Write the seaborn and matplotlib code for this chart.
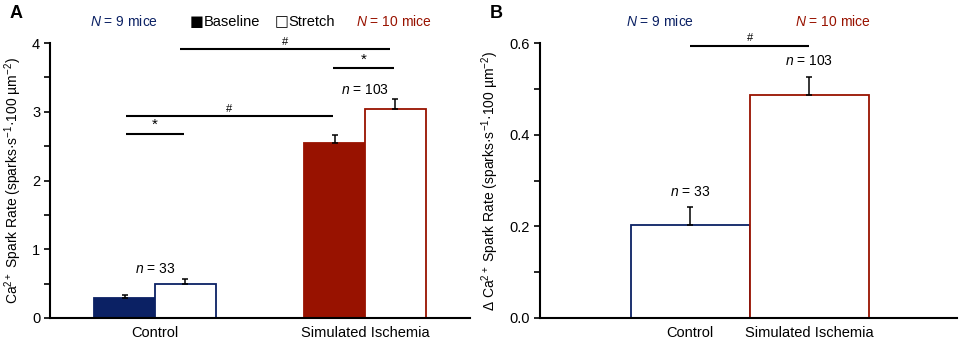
import pandas as pd
import matplotlib.pyplot as plt
import seaborn as sns

groups = ["Control", "Simulated Ischemia"]
conditions = ["Baseline", "Stretch"]
rate_baseline = [0.29, 2.55]
rate_stretch = [0.49, 3.04]
sem_baseline = [0.05, 0.11]
sem_stretch = [0.07, 0.14]
delta_rate = [0.203, 0.487]
delta_sem = [0.04, 0.038]
n_cells = ["33", "103"]
n_mice = ["9", "10"]

navy = "#0b2164"
darkred = "#981200"
group_colors = [navy, darkred]

sns.set_style("white")
plt.rcParams["font.family"] = ["Liberation Sans", "DejaVu Sans"]
plt.rcParams["mathtext.fontset"] = "custom"
plt.rcParams["mathtext.rm"] = "Liberation Sans"
plt.rcParams["mathtext.it"] = "Liberation Sans:italic"
plt.rcParams["font.size"] = 10
plt.rcParams["text.color"] = "black"
plt.rcParams["axes.labelcolor"] = "black"
plt.rcParams["xtick.color"] = "black"
plt.rcParams["ytick.color"] = "black"

df_a = pd.DataFrame({
    "group": groups * 2,
    "condition": [conditions[0]] * 2 + [conditions[1]] * 2,
    "rate": rate_baseline + rate_stretch,
})
df_b = pd.DataFrame({"group": groups, "delta": delta_rate})

fig = plt.figure(figsize=(9.59, 3.42), dpi=100)
ax1 = fig.add_axes([0.0521, 0.0702, 0.438, 0.804])
ax2 = fig.add_axes([0.563, 0.0702, 0.435, 0.804])

# ---- panel A ----
sns.barplot(data=df_a, x="group", y="rate", hue="condition", order=groups,
            hue_order=conditions, width=0.58, errorbar=None, legend=False,
            ax=ax1, linewidth=1.3)
errs = [sem_baseline, sem_stretch]
bar_conts = list(ax1.containers)
for h, cont in enumerate(bar_conts):
    for g, bar in enumerate(cont):
        if h == 0:
            bar.set_facecolor(group_colors[g])
        else:
            bar.set_facecolor("white")
        bar.set_edgecolor(group_colors[g])
        xc = bar.get_x() + bar.get_width() / 2
        ax1.errorbar([xc], [bar.get_height()], yerr=[[0], [errs[h][g]]],
                     fmt="none", ecolor="black", elinewidth=1.1, capsize=2,
                     capthick=1.1)

ax1.set_xlim(-0.5, 1.5)
ax1.set_ylim(0, 4)
ax1.set_yticks([0, 1, 2, 3, 4])
ax1.set_yticks([0.5, 1.5, 2.5, 3.5], minor=True)
ax1.set_xlabel("")
ax1.set_ylabel("Ca$^{2+}$ Spark Rate (sparks·s$^{-1}$·100 µm$^{-2}$)", labelpad=6)

# significance bars
sig_a = [(-0.14, 0.14, 2.68, "*", 11), (-0.14, 0.85, 2.94, "#", 8),
         (0.85, 1.14, 3.63, "*", 11), (0.12, 1.12, 3.91, "#", 8)]
for x0, x1, yv, mark, fs in sig_a:
    ax1.plot([x0, x1], [yv, yv], color="black", lw=1.5, solid_capstyle="butt")
    ax1.text((x0 + x1) / 2, yv + 0.03, mark, ha="center", va="bottom", fontsize=fs)

ax1.text(0.0, 0.71, "$\\it{n}$ = " + n_cells[0], ha="center", va="center")
ax1.text(1.0, 3.31, "$\\it{n}$ = " + n_cells[1], ha="center", va="center")

tr1 = ax1.get_xaxis_transform()
hy = 1.077
ax1.text(-0.147, hy, "$\\it{N}$ = " + n_mice[0] + " mice", color=navy,
         ha="center", va="center", transform=tr1)
ax1.text(1.137, hy, "$\\it{N}$ = " + n_mice[1] + " mice", color=darkred,
         ha="center", va="center", transform=tr1)
ax1.text(0.166, hy, "\u25A0", ha="left", va="center", transform=tr1,
         family=["DejaVu Sans"], fontsize=10.5)
ax1.text(0.23, hy, "Baseline", ha="left", va="center", transform=tr1,
         fontsize=10.5)
ax1.text(0.569, hy, "\u25A1", ha="left", va="center", transform=tr1,
         family=["DejaVu Sans"], fontsize=10.5)
ax1.text(0.633, hy, "Stretch", ha="left", va="center", transform=tr1,
         fontsize=10.5)

# ---- panel B ----
sns.barplot(data=df_b, x="group", y="delta", order=groups, width=1.0,
            errorbar=None, ax=ax2, linewidth=1.3)
for g, bar in enumerate(list(ax2.patches)):
    bar.set_facecolor("white")
    bar.set_edgecolor(group_colors[g])
    xc = bar.get_x() + bar.get_width() / 2
    ax2.errorbar([xc], [bar.get_height()], yerr=[[0], [delta_sem[g]]],
                 fmt="none", ecolor="black", elinewidth=1.1, capsize=2,
                 capthick=1.1)

ax2.set_xlim(-1.26, 2.24)
ax2.set_ylim(0, 0.6)
ax2.set_yticks([0.0, 0.2, 0.4, 0.6])
ax2.set_yticklabels(["0.0", "0.2", "0.4", "0.6"])
ax2.set_yticks([0.1, 0.3, 0.5], minor=True)
ax2.set_xlabel("")
ax2.set_ylabel("Δ Ca$^{2+}$ Spark Rate (sparks·s$^{-1}$·100 µm$^{-2}$)", labelpad=6)

ax2.plot([0, 1], [0.594, 0.594], color="black", lw=1.5, solid_capstyle="butt")
ax2.text(0.5, 0.599, "#", ha="center", va="bottom", fontsize=8)
ax2.text(0.0, 0.276, "$\\it{n}$ = " + n_cells[0], ha="center", va="center")
ax2.text(1.0, 0.56, "$\\it{n}$ = " + n_cells[1], ha="center", va="center")

tr2 = ax2.get_xaxis_transform()
ax2.text(-0.25, hy, "$\\it{N}$ = " + n_mice[0] + " mice", color=navy,
         ha="center", va="center", transform=tr2)
ax2.text(1.2, hy, "$\\it{N}$ = " + n_mice[1] + " mice", color=darkred,
         ha="center", va="center", transform=tr2)

for ax in (ax1, ax2):
    sns.despine(ax=ax)
    for side in ("left", "bottom"):
        ax.spines[side].set_linewidth(1.5)
        ax.spines[side].set_color("black")
    ax.tick_params(axis="y", which="both", direction="out", length=4,
                   width=1.2, left=True, labelsize=10.5, pad=3)
    ax.tick_params(axis="x", length=0, labelsize=10.5, pad=6)

fig.text(0.01, 0.96, "A", fontsize=13, fontweight="bold", va="center")
fig.text(0.511, 0.96, "B", fontsize=13, fontweight="bold", va="center")

fig.savefig("out.png", dpi=100)
